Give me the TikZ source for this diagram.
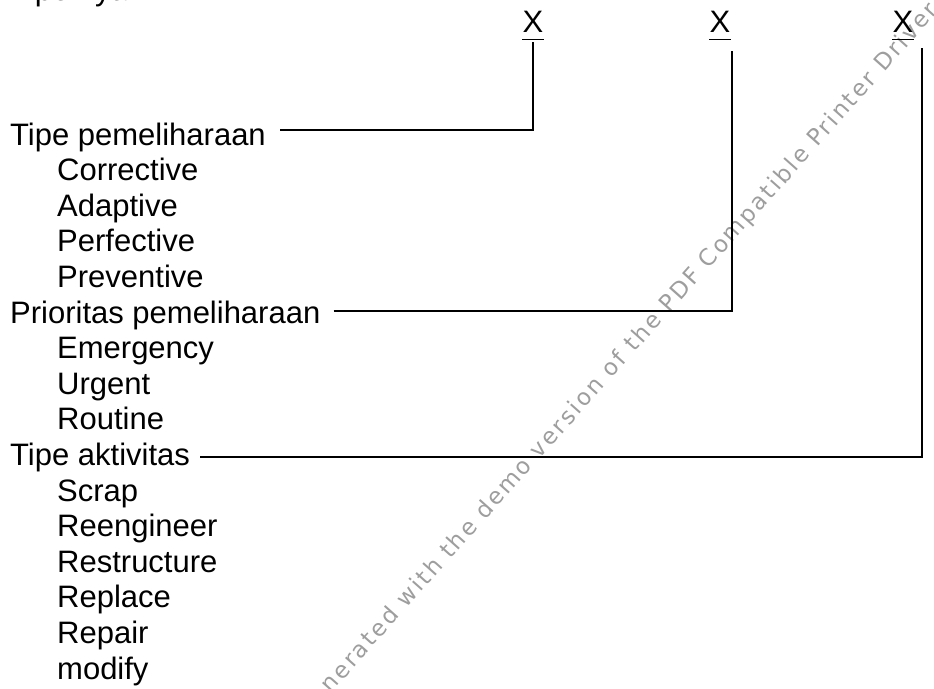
\documentclass[tikz,border=0pt]{standalone}
\usepackage{fontspec}
\setmainfont{Liberation Sans}
\newfontfamily\wmfont{DejaVu Sans}[LetterSpace=10.4]
\usetikzlibrary{calc}
\begin{document}
\begin{tikzpicture}[x=1pt,y=-1pt,
  lbl/.style={anchor=base west,inner sep=0pt,font=\fontsize{31}{37}\selectfont},
  xmark/.style={anchor=base,inner sep=0pt,font=\fontsize{31}{37}\selectfont},
  conn/.style={line width=1.8pt},
  uline/.style={line width=1.8pt},
  wm/.style={rotate=48.3,inner sep=0pt,text=black!38,font=\wmfont\fontsize{23}{27}\selectfont}]
\useasboundingbox (0,0) rectangle (934,688);
\fill[white] (0,0) rectangle (934,688);
\clip (0,0) rectangle (934,688);

% watermark
\node[wm] (wmk) at (618,362) {Generated with the demo version of the PDF Compatible Printer Driver};

% top (cut) line
\node[lbl] (top) at (10,0.3) {Tipe nya};

% column marks
\node[xmark] (x1) at (533,32) {X};
\node[xmark] (x2) at (720,32) {X};
\node[xmark] (x3) at (903,32) {X};
\foreach \n in {x1,x2,x3}
  \draw[uline] ([yshift=-7.5pt]\n.base west) -- ([yshift=-7.5pt]\n.base east);

% group headings and items
\node[lbl] (h1) at (10,145) {Tipe pemeliharaan};
\node[lbl] (a1) at (57,180.6) {Corrective};
\node[lbl] (a2) at (57,216.2) {Adaptive};
\node[lbl] (a3) at (57,251.8) {Perfective};
\node[lbl] (a4) at (57,287.4) {Preventive};
\node[lbl] (h2) at (10,323) {Prioritas pemeliharaan};
\node[lbl] (b1) at (57,358.6) {Emergency};
\node[lbl] (b2) at (57,394.2) {Urgent};
\node[lbl] (b3) at (57,429.8) {Routine};
\node[lbl] (h3) at (10,465.4) {Tipe aktivitas};
\node[lbl] (c1) at (57,501) {Scrap};
\node[lbl] (c2) at (57,536.6) {Reengineer};
\node[lbl] (c3) at (57,572.2) {Restructure};
\node[lbl] (c4) at (57,607.8) {Replace};
\node[lbl] (c5) at (57,643.4) {Repair};
\node[lbl] (c6) at (57,679) {modify};

% connector coordinates
\coordinate (s1) at ($(h1.base east)+(14,-15)$);
\coordinate (s2) at ($(h2.base east)+(13,-12)$);
\coordinate (s3) at ($(h3.base east)+(10,-8.4)$);
\coordinate (t1) at (533,42);
\coordinate (t2) at (732,51);
\coordinate (t3) at (922,48);

\draw[conn] (s1) -- (s1 -| t1) -- (t1);
\draw[conn] (s2) -- (s2 -| t2) -- (t2);
\draw[conn] (s3) -- (s3 -| t3) -- (t3);
\end{tikzpicture}
\end{document}
